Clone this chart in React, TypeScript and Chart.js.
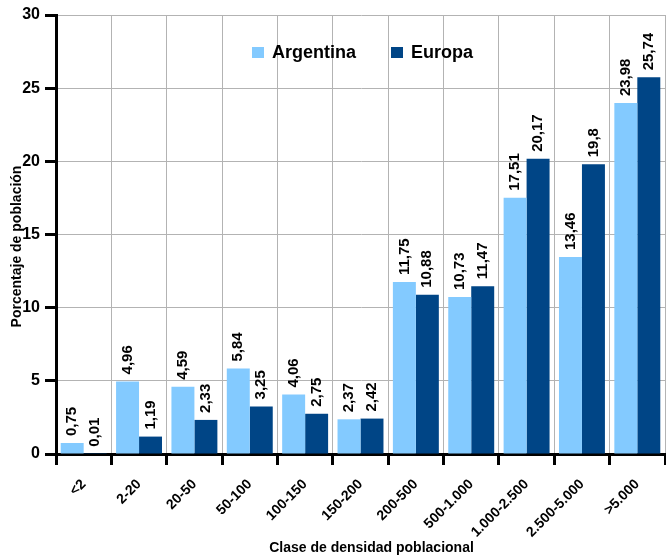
import React, { useEffect, useRef } from "react";
import { Chart, registerables } from "chart.js";

Chart.register(...registerables);

const categories = ["<2", "2-20", "20-50", "50-100", "100-150", "150-200", "200-500", "500-1.000", "1.000-2.500", "2.500-5.000", ">5.000"];
const argentina = [0.75, 4.96, 4.59, 5.84, 4.06, 2.37, 11.75, 10.73, 17.51, 13.46, 23.98];
const europa = [0.01, 1.19, 2.33, 3.25, 2.75, 2.42, 10.88, 11.47, 20.17, 19.8, 25.74];
const seriesNames = ["Argentina", "Europa"];
const colors = ["#83caff", "#004586"];
const yTitle = "Porcentaje de población";
const xTitle = "Clase de densidad poblacional";

const NARROW = "'Liberation Sans Narrow', 'Liberation Sans', Arial, sans-serif";
const WIDE = "'Liberation Sans', Arial, sans-serif";

const fmt = (v: number) => String(v).replace(".", ",");

const labelPlugin = {
  id: "valueLabels",
  afterDatasetsDraw(chart: any) {
    const ctx = chart.ctx;
    ctx.save();
    ctx.fillStyle = "#000";
    ctx.font = `bold 15px ${NARROW}`;
    ctx.textAlign = "left";
    ctx.textBaseline = "middle";
    chart.data.datasets.forEach((ds: any, di: number) => {
      const meta = chart.getDatasetMeta(di);
      meta.data.forEach((el: any, i: number) => {
        ctx.save();
        ctx.translate(el.x, el.y - 7);
        ctx.rotate(-Math.PI / 2);
        ctx.fillText(fmt(ds.data[i]), 0, 0);
        ctx.restore();
      });
    });
    ctx.restore();
  },
};

const decorPlugin = {
  id: "decor",
  afterDraw(chart: any) {
    const ctx = chart.ctx;
    const ca = chart.chartArea;
    const cx = (ca.left + ca.right) / 2;
    ctx.save();
    // legend
    ctx.font = `bold 18px ${WIDE}`;
    ctx.textBaseline = "middle";
    ctx.textAlign = "left";
    const w0 = ctx.measureText(seriesNames[0]).width;
    const w1 = ctx.measureText(seriesNames[1]).width;
    const box = 12;
    const gapText = 8;
    const gapItems = 35;
    const total = box + gapText + w0 + gapItems + box + gapText + w1;
    let x = cx - total / 2 + 2;
    const y = ca.top + 38;
    [w0, w1].forEach((w, i) => {
      ctx.fillStyle = colors[i];
      ctx.fillRect(x, y - 6, box, 11);
      ctx.fillStyle = "#000";
      ctx.fillText(seriesNames[i], x + box + gapText, y);
      x += box + gapText + w + gapItems;
    });
    // axis titles
    ctx.font = `bold 14px ${WIDE}`;
    ctx.textAlign = "center";
    ctx.textBaseline = "middle";
    ctx.fillText(xTitle, cx + 11, 548);
    ctx.save();
    ctx.translate(17, (ca.top + ca.bottom) / 2 + 12);
    ctx.rotate(-Math.PI / 2);
    ctx.fillText(yTitle, 0, 0);
    ctx.restore();
    ctx.restore();
  },
};

export default function App() {
  const ref = useRef<HTMLCanvasElement>(null);
  useEffect(() => {
    document.body.style.margin = "0";
    const chart = new Chart(ref.current!, {
      type: "bar",
      data: {
        labels: categories,
        datasets: [
          { label: seriesNames[0], data: argentina, backgroundColor: colors[0], barPercentage: 1, categoryPercentage: 0.83 },
          { label: seriesNames[1], data: europa, backgroundColor: colors[1], barPercentage: 1, categoryPercentage: 0.83 },
        ],
      },
      options: {
        responsive: false,
        animation: false,
        layout: { padding: { top: 15, right: 1, left: 0, bottom: 0 } },
        plugins: { legend: { display: false }, tooltip: { enabled: false } },
        scales: {
          x: {
            offset: true,
            grid: { offset: true, color: "#b3b3b3", lineWidth: 1, tickColor: "#000", tickWidth: 3, tickLength: 11 },
            border: { color: "#000", width: 3 },
            ticks: { color: "#000", font: { family: NARROW, size: 14, weight: "bold" }, maxRotation: 45, minRotation: 45, padding: 11 },
            afterFit(scale: any) { scale.height = 103; },
          },
          y: {
            min: 0,
            max: 30,
            grid: { color: "#b3b3b3", lineWidth: 1, tickColor: "#000", tickWidth: 3, tickLength: 11 },
            border: { color: "#000", width: 3 },
            ticks: { stepSize: 5, color: "#000", font: { family: NARROW, size: 16, weight: "bold" }, padding: 5 },
            afterFit(scale: any) { scale.width = 56; },
          },
        },
      },
      plugins: [labelPlugin, decorPlugin],
    });
    return () => chart.destroy();
  }, []);
  return <canvas ref={ref} width={666} height={557} style={{ display: "block" }} />;
}
